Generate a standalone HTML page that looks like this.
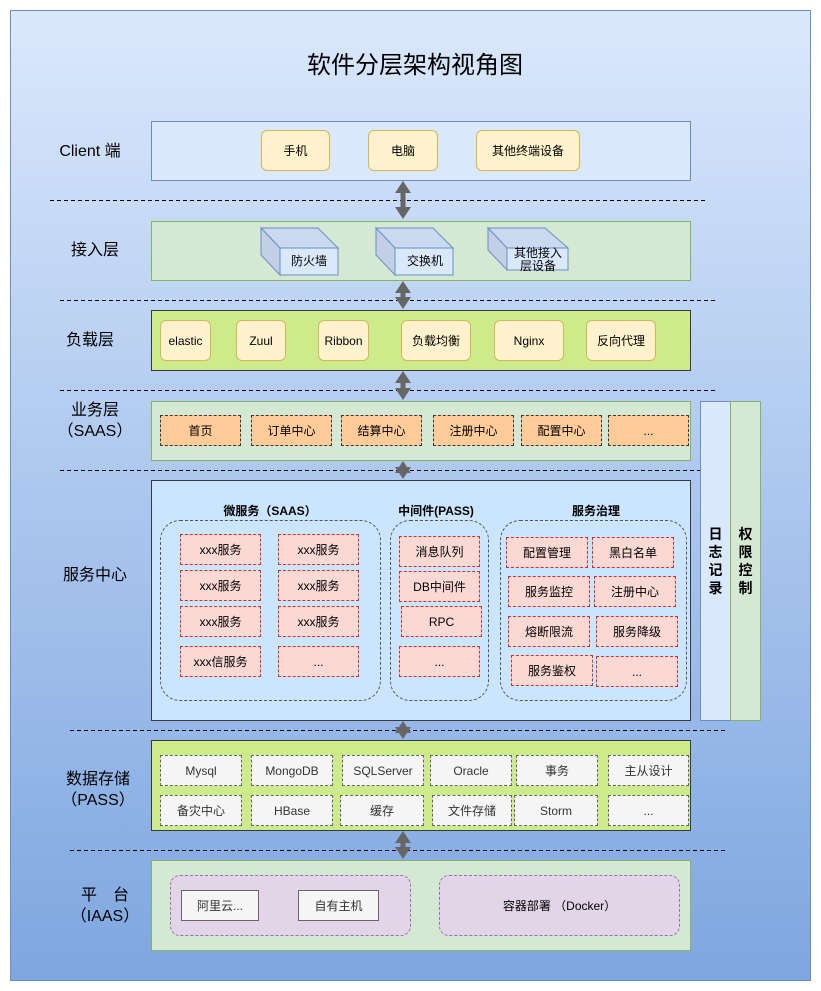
<!DOCTYPE html>
<html><head><meta charset="utf-8"><style>
body{margin:0;width:821px;height:991px;background:#fff;position:relative;overflow:hidden;font-family:"Liberation Sans","Noto Sans CJK SC",sans-serif;color:#000}
.a{position:absolute;box-sizing:border-box;display:flex;align-items:center;justify-content:center;text-align:center;font-size:12px}
.y{background:#fff2cc;border:1px solid #d6b656;border-radius:6px}
.o{background:#ffcc99;border:1px dashed #36393d}
.p{background:#fad9d5;border:1px dashed #c33}
.g{background:#f5f5f5;border:1px dashed #666;color:#333}
.l{font-size:16px;line-height:21px}
.grp{border:1px dashed #555;border-radius:20px}
.t{font-weight:bold;font-size:12px}
</style></head><body>
<div class="a" style="left:10px;top:10px;width:801px;height:971px;border:1px solid #6c8ebf;background:linear-gradient(#dae8fc,#7ea6e0)"></div>
<div class="a" style="left:210px;top:44px;width:410px;height:36px;font-size:24px">软件分层架构视角图</div>

<div class="a l" style="left:40px;top:140px;width:100px;height:22px">Client 端</div>
<div class="a l" style="left:45px;top:239px;width:100px;height:22px">接入层</div>
<div class="a l" style="left:40px;top:329px;width:100px;height:22px">负载层</div>
<div class="a l" style="left:45px;top:399px;width:100px;height:44px">业务层<br>（SAAS）</div>
<div class="a l" style="left:45px;top:564px;width:100px;height:22px">服务中心</div>
<div class="a l" style="left:48px;top:768px;width:100px;height:44px">数据存储<br>（PASS）</div>
<div class="a l" style="left:55px;top:884px;width:100px;height:44px">平　台<br>（IAAS）</div>

<!-- client -->
<div class="a" style="left:151px;top:121px;width:540px;height:60px;background:#dae8fc;border:1px solid #6c8ebf"></div>
<div class="a y" style="left:261px;top:130px;width:69px;height:41px">手机</div>
<div class="a y" style="left:368px;top:130px;width:70px;height:41px">电脑</div>
<div class="a y" style="left:476px;top:130px;width:104px;height:41px">其他终端设备</div>

<!-- access -->
<div class="a" style="left:151px;top:221px;width:540px;height:60px;background:#d5e8d4;border:1px solid #82b366"></div>

<!-- load -->
<div class="a" style="left:151px;top:310px;width:540px;height:61px;background:#cdeb8b;border:1px solid #36393d"></div>
<div class="a y" style="left:160px;top:320px;width:51px;height:41px">elastic</div>
<div class="a y" style="left:236px;top:320px;width:50px;height:41px">Zuul</div>
<div class="a y" style="left:318px;top:320px;width:51px;height:41px">Ribbon</div>
<div class="a y" style="left:401px;top:320px;width:70px;height:41px">负载均衡</div>
<div class="a y" style="left:494px;top:320px;width:70px;height:41px">Nginx</div>
<div class="a y" style="left:586px;top:320px;width:70px;height:41px">反向代理</div>

<!-- business -->
<div class="a" style="left:151px;top:401px;width:540px;height:60px;background:#d5e8d4;border:1px solid #82b366"></div>
<div class="a o" style="left:160px;top:415px;width:81px;height:31px">首页</div>
<div class="a o" style="left:251px;top:415px;width:81px;height:31px">订单中心</div>
<div class="a o" style="left:341px;top:415px;width:81px;height:31px">结算中心</div>
<div class="a o" style="left:433px;top:415px;width:81px;height:31px">注册中心</div>
<div class="a o" style="left:521px;top:415px;width:81px;height:31px">配置中心</div>
<div class="a o" style="left:608px;top:415px;width:81px;height:31px">...</div>

<div class="a" style="left:700px;top:401px;width:31px;height:320px;background:#dae8fc;border:1px solid #6c8ebf;font-size:14px;font-weight:bold;line-height:18px">日<br>志<br>记<br>录</div>
<div class="a" style="left:730px;top:401px;width:31px;height:320px;background:#d5e8d4;border:1px solid #82b366;font-size:14px;font-weight:bold;line-height:18px">权<br>限<br>控<br>制</div>

<!-- service center -->
<div class="a" style="left:151px;top:480px;width:540px;height:241px;background:#cce5ff;border:1px solid #36393d"></div>
<div class="a t" style="left:180px;top:502px;width:180px;height:16px">微服务（SAAS）</div>
<div class="a t" style="left:386px;top:502px;width:100px;height:16px">中间件(PASS)</div>
<div class="a t" style="left:546px;top:502px;width:100px;height:16px">服务治理</div>
<div class="a grp" style="left:160px;top:520px;width:221px;height:181px"></div>
<div class="a grp" style="left:390px;top:520px;width:99px;height:181px"></div>
<div class="a grp" style="left:500px;top:520px;width:187px;height:181px"></div>
<div class="a p" style="left:180px;top:534px;width:81px;height:31px">xxx服务</div>
<div class="a p" style="left:278px;top:534px;width:81px;height:31px">xxx服务</div>
<div class="a p" style="left:180px;top:570px;width:81px;height:31px">xxx服务</div>
<div class="a p" style="left:278px;top:570px;width:81px;height:31px">xxx服务</div>
<div class="a p" style="left:180px;top:606px;width:81px;height:31px">xxx服务</div>
<div class="a p" style="left:278px;top:606px;width:81px;height:31px">xxx服务</div>
<div class="a p" style="left:180px;top:646px;width:81px;height:31px">xxx信服务</div>
<div class="a p" style="left:278px;top:646px;width:81px;height:31px">...</div>
<div class="a p" style="left:399px;top:536px;width:81px;height:31px">消息队列</div>
<div class="a p" style="left:399px;top:571px;width:81px;height:31px">DB中间件</div>
<div class="a p" style="left:401px;top:606px;width:81px;height:31px">RPC</div>
<div class="a p" style="left:399px;top:646px;width:81px;height:31px">...</div>
<div class="a p" style="left:506px;top:537px;width:82px;height:31px">配置管理</div>
<div class="a p" style="left:592px;top:537px;width:82px;height:31px">黑白名单</div>
<div class="a p" style="left:508px;top:576px;width:82px;height:31px">服务监控</div>
<div class="a p" style="left:594px;top:576px;width:82px;height:31px">注册中心</div>
<div class="a p" style="left:508px;top:616px;width:82px;height:31px">熔断限流</div>
<div class="a p" style="left:596px;top:616px;width:82px;height:31px">服务降级</div>
<div class="a p" style="left:511px;top:655px;width:82px;height:31px">服务鉴权</div>
<div class="a p" style="left:596px;top:656px;width:82px;height:31px">...</div>

<!-- data -->
<div class="a" style="left:151px;top:740px;width:540px;height:91px;background:#cdeb8b;border:1px solid #36393d"></div>
<div class="a g" style="left:160px;top:755px;width:82px;height:31px">Mysql</div>
<div class="a g" style="left:251px;top:755px;width:82px;height:31px">MongoDB</div>
<div class="a g" style="left:342px;top:755px;width:82px;height:31px">SQLServer</div>
<div class="a g" style="left:430px;top:755px;width:82px;height:31px">Oracle</div>
<div class="a g" style="left:516px;top:755px;width:82px;height:31px">事务</div>
<div class="a g" style="left:608px;top:755px;width:81px;height:31px">主从设计</div>
<div class="a g" style="left:160px;top:795px;width:82px;height:31px">备灾中心</div>
<div class="a g" style="left:251px;top:795px;width:82px;height:31px">HBase</div>
<div class="a g" style="left:340px;top:795px;width:84px;height:31px">缓存</div>
<div class="a g" style="left:432px;top:795px;width:80px;height:31px">文件存储</div>
<div class="a g" style="left:514px;top:795px;width:84px;height:31px">Storm</div>
<div class="a g" style="left:608px;top:795px;width:81px;height:31px">...</div>

<!-- platform -->
<div class="a" style="left:151px;top:860px;width:540px;height:91px;background:#d5e8d4;border:1px solid #82b366"></div>
<div class="a" style="left:170px;top:875px;width:241px;height:61px;background:#e1d5e7;border:1px dashed #9673a6;border-radius:10px"></div>
<div class="a" style="left:439px;top:875px;width:241px;height:61px;background:#e1d5e7;border:1px dashed #9673a6;border-radius:10px">容器部署 （Docker）</div>
<div class="a" style="left:181px;top:890px;width:78px;height:31px;background:#f5f5f5;border:1px solid #666;color:#333">阿里云...</div>
<div class="a" style="left:298px;top:890px;width:81px;height:31px;background:#f5f5f5;border:1px solid #666;color:#333">自有主机</div>

<svg style="position:absolute;left:0;top:0" width="821" height="991">
<g stroke="#000" stroke-dasharray="4,3" stroke-width="1">
<line x1="50" y1="200.5" x2="708" y2="200.5"/>
<line x1="60" y1="300.5" x2="718" y2="300.5"/>
<line x1="60" y1="390.5" x2="718" y2="390.5"/>
<line x1="60" y1="470.5" x2="700" y2="470.5"/>
<line x1="70" y1="730.5" x2="728" y2="730.5"/>
<line x1="70" y1="850.5" x2="728" y2="850.5"/>
</g>
<g fill="#d0dff3" stroke="#6c8ebf">
<g transform="translate(261,228)"><polygon points="0,0 57,0 77,20 19,20" fill="#c9d9ef"/><polygon points="0,0 19,20 19,47 0,27" fill="#c2cfe6"/><rect x="19" y="20" width="58" height="27" fill="#dae8fc"/></g>
<g transform="translate(376,228)"><polygon points="0,0 57,0 77,20 19,20" fill="#c9d9ef"/><polygon points="0,0 19,20 19,47 0,27" fill="#c2cfe6"/><rect x="19" y="20" width="58" height="27" fill="#dae8fc"/></g>
<g transform="translate(488,228)"><polygon points="0,0 57,0 80,20 19,20" fill="#c9d9ef"/><polygon points="0,0 19,20 19,42 0,22" fill="#c2cfe6"/><rect x="19" y="20" width="61" height="22" fill="#dae8fc"/></g>
</g>
<g font-family="Liberation Sans,Noto Sans CJK SC,sans-serif" font-size="12" text-anchor="middle" fill="#000">
<text x="309" y="265">防火墙</text><text x="425" y="265">交换机</text>
<text x="538" y="257">其他接入</text><text x="538" y="270">层设备</text>
</g>
<g stroke="#666" stroke-width="5" fill="#666">
<line x1="403" y1="188" x2="403" y2="212"/><line x1="403" y1="288" x2="403" y2="302"/><line x1="403" y1="378" x2="403" y2="393"/>
<line x1="403" y1="468" x2="403" y2="472"/><line x1="403" y1="728" x2="403" y2="732"/><line x1="403" y1="838" x2="403" y2="852"/>
</g>
<g fill="#666">
<polygon points="403,181 395,193 411,193"/><polygon points="403,219 395,207 411,207"/>
<polygon points="403,281 395,293 411,293"/><polygon points="403,309 395,297 411,297"/>
<polygon points="403,371 395,383 411,383"/><polygon points="403,400 395,388 411,388"/>
<polygon points="403,461 395,473 411,473"/><polygon points="403,479 395,467 411,467"/>
<polygon points="403,721 395,733 411,733"/><polygon points="403,739 395,727 411,727"/>
<polygon points="403,831 395,843 411,843"/><polygon points="403,859 395,847 411,847"/>
</g>
</svg>
</body></html>
